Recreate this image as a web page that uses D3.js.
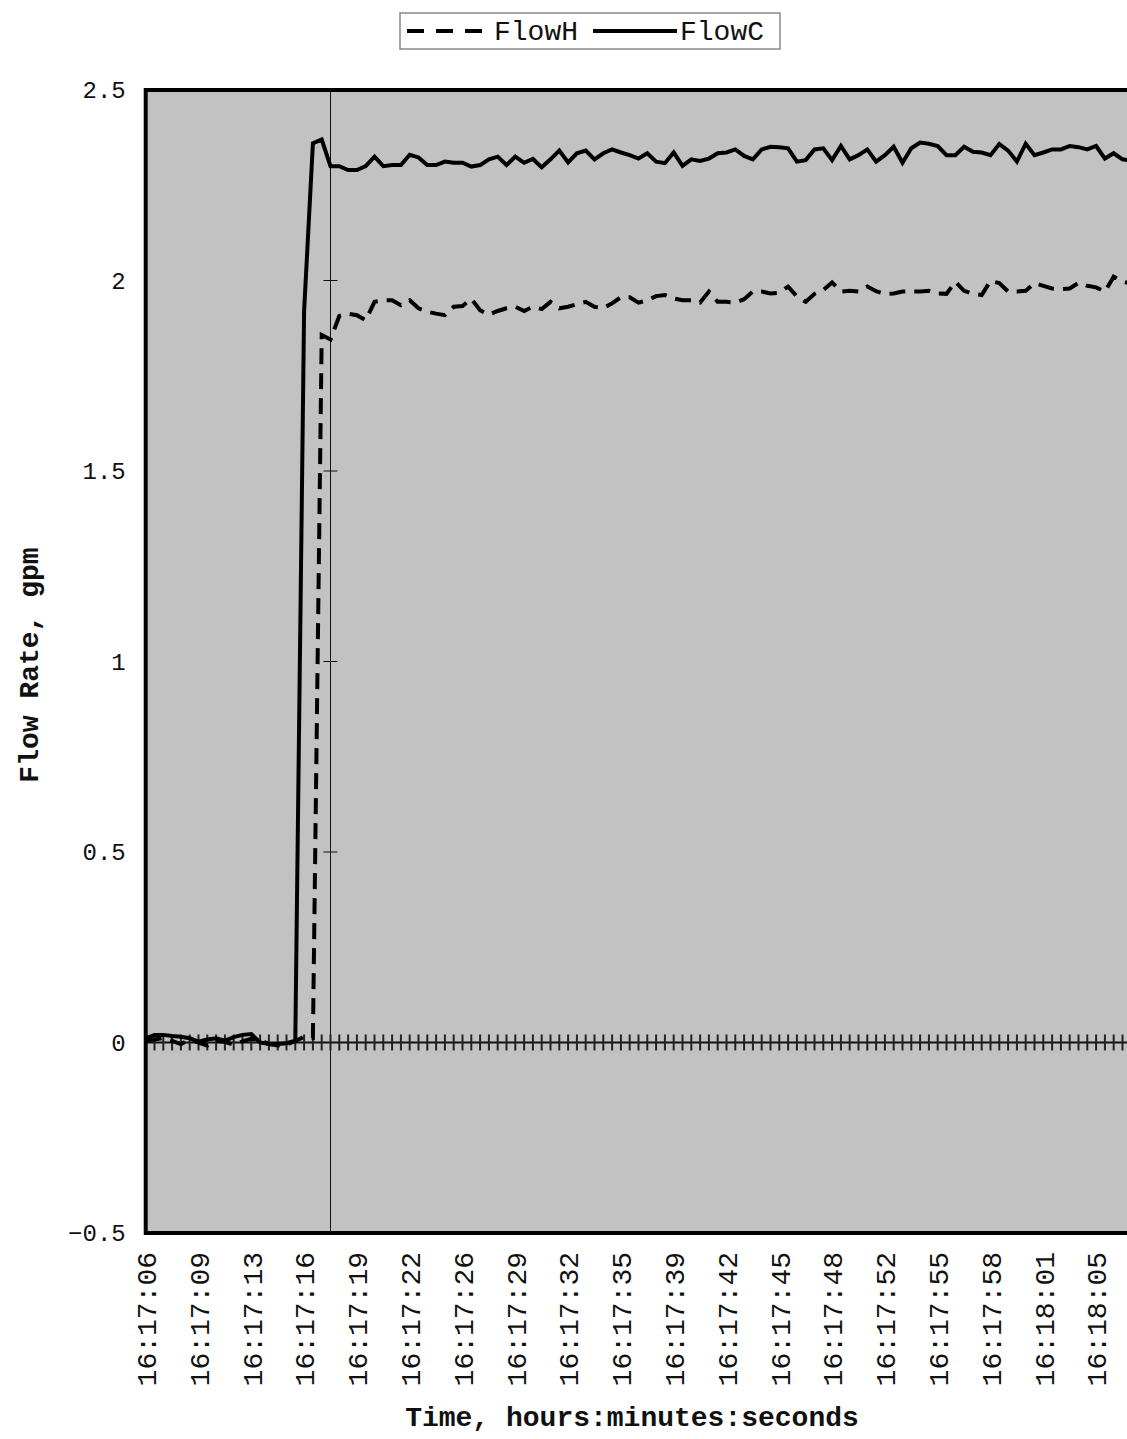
<!DOCTYPE html>
<html lang="en">
<head>
    <meta charset="UTF-8">
    <title>Flow Rate</title>
    <script src="https://d3js.org/d3.v7.min.js"></script>
    <style>
        html, body { margin: 0; padding: 0; background: #fff; overflow: hidden; }
        svg { display: block; font-family: "Liberation Mono", "Courier New", monospace; }
    </style>
</head>
<body>
<svg id="chart" width="1127" height="1439"></svg>
<script>
    // tick labels, one for every 6th sample
    const tickLabels = ["16:17:06", "16:17:09", "16:17:13", "16:17:16", "16:17:19", "16:17:22", "16:17:26",
        "16:17:29", "16:17:32", "16:17:35", "16:17:39", "16:17:42", "16:17:45", "16:17:48", "16:17:52",
        "16:17:55", "16:17:58", "16:18:01", "16:18:05"];
    const labelEvery = 6;
    const yTicks = [-0.5, 0, 0.5, 1, 1.5, 2, 2.5];

    // FlowC (solid), gpm
    const flowC = [0.011, 0.020, 0.020, 0.017, 0.015, 0.011, 0.002, 0.008, 0.011, 0.005, 0.014, 0.020, 0.022,
        0.000, -0.004, -0.004, -0.002, 0.005,
        1.92, 2.36, 2.37, 2.30, 2.30, 2.29, 2.29, 2.30, 2.325, 2.30, 2.303, 2.303, 2.33, 2.323, 2.303, 2.303,
        2.312, 2.309, 2.309, 2.299, 2.303, 2.318, 2.325, 2.303, 2.325, 2.309, 2.319, 2.297, 2.318, 2.341, 2.31,
        2.334, 2.341, 2.318, 2.334, 2.344, 2.336, 2.329, 2.32, 2.334, 2.312, 2.308, 2.336, 2.301, 2.318, 2.314,
        2.32, 2.334, 2.336, 2.344, 2.327, 2.318, 2.344, 2.351, 2.35, 2.347, 2.312, 2.316, 2.344, 2.347, 2.316,
        2.353, 2.318, 2.329, 2.344, 2.312, 2.329, 2.351, 2.309, 2.347, 2.362, 2.359, 2.353, 2.329, 2.329, 2.351,
        2.338, 2.336, 2.329, 2.358, 2.341, 2.312, 2.359, 2.329, 2.336, 2.344, 2.344, 2.353, 2.35, 2.344, 2.353,
        2.32, 2.334, 2.318, 2.315];

    // FlowH (dashed), gpm
    const flowH = [0.005, 0.008, 0.012, 0.004, -0.004, 0.008, 0.000, -0.008, 0.004, 0.002, -0.006, 0.003, 0.010,
        0.006, -0.004, -0.008, -0.006, 0.004, 0.015, 0.012,
        1.857, 1.845, 1.907, 1.913, 1.909, 1.896, 1.944, 1.948, 1.948, 1.935, 1.948, 1.927, 1.918, 1.913, 1.909,
        1.931, 1.933, 1.952, 1.922, 1.91, 1.92, 1.927, 1.931, 1.92, 1.931, 1.925, 1.944, 1.927, 1.931, 1.938,
        1.944, 1.931, 1.927, 1.94, 1.956, 1.956, 1.942, 1.948, 1.959, 1.962, 1.953, 1.948, 1.948, 1.942, 1.971,
        1.944, 1.944, 1.942, 1.951, 1.971, 1.971, 1.966, 1.968, 1.984, 1.958, 1.944, 1.965, 1.975, 1.995, 1.971,
        1.973, 1.971, 1.984, 1.972, 1.965, 1.966, 1.971, 1.971, 1.971, 1.973, 1.966, 1.965, 1.997, 1.973, 1.965,
        1.962, 1.999, 1.993, 1.971, 1.971, 1.973, 1.993, 1.986, 1.979, 1.977, 1.979, 1.994, 1.986, 1.982, 1.971,
        2.01, 1.999, 1.99];

    const valueAxisAt = 21; // category where the value axis crosses

    const svg = d3.select('#chart');
    const plotLeft = 145.7, plotTop = 90, plotBottom = 1233;
    const step = 8.8;
    const n = flowC.length;

    const x = d3.scaleLinear().domain([0, n - 1]).range([plotLeft, plotLeft + step * (n - 1)]);
    const y = d3.scaleLinear().domain([-0.5, 2.5]).range([plotBottom, plotTop]);

    // plot area
    svg.append('rect')
        .attr('x', x(0)).attr('y', y(2.5))
        .attr('width', x(n - 1) - x(0)).attr('height', y(-0.5) - y(2.5))
        .attr('fill', '#c2c2c2');

    // value axis (thin vertical line with cross ticks)
    const vx = x(valueAxisAt);
    svg.append('line')
        .attr('x1', vx).attr('x2', vx).attr('y1', y(2.5)).attr('y2', y(-0.5))
        .attr('stroke', '#111').attr('stroke-width', 1);
    svg.append('g').selectAll('line')
        .data(yTicks.filter(d => d > 0 && d < 2.5))
        .join('line')
        .attr('x1', vx - 7).attr('x2', vx + 7)
        .attr('y1', d => y(d)).attr('y2', d => y(d))
        .attr('stroke', '#111').attr('stroke-width', 1);

    // category axis along zero
    svg.append('line')
        .attr('x1', x(0)).attr('x2', x(n - 1)).attr('y1', y(0)).attr('y2', y(0))
        .attr('stroke', '#111').attr('stroke-width', 2);
    svg.append('g').selectAll('line')
        .data(d3.range(1, n))
        .join('line')
        .attr('x1', d => x(d)).attr('x2', d => x(d))
        .attr('y1', y(0) - 8).attr('y2', y(0) + 8)
        .attr('stroke', '#222').attr('stroke-width', 2);

    // series
    const line = d3.line().x((d, i) => x(i)).y(d => y(d));
    svg.append('path').datum(flowH)
        .attr('d', line).attr('fill', 'none')
        .attr('stroke', '#000').attr('stroke-width', 4)
        .attr('stroke-dasharray', '16,9');
    svg.append('path').datum(flowC)
        .attr('d', line).attr('fill', 'none')
        .attr('stroke', '#000').attr('stroke-width', 4)
        .attr('stroke-linejoin', 'miter');

    // frame
    svg.append('rect')
        .attr('x', x(0)).attr('y', y(2.5))
        .attr('width', x(n - 1) - x(0)).attr('height', y(-0.5) - y(2.5))
        .attr('fill', 'none').attr('stroke', '#000').attr('stroke-width', 4);

    // y axis labels
    const yAxis = svg.append('g')
        .attr('transform', `translate(${plotLeft - 20},0)`)
        .call(d3.axisLeft(y).tickValues(yTicks).tickSize(0).tickFormat(d3.format('')));
    yAxis.select('.domain').remove();
    yAxis.selectAll('text')
        .attr('font-family', '"Liberation Mono", monospace')
        .attr('font-size', 24).attr('fill', '#111').attr('x', 0);

    // x axis labels (rotated)
    const xAxis = svg.append('g')
        .attr('transform', `translate(0,${plotBottom + 19})`)
        .call(d3.axisBottom(x)
            .tickValues(d3.range(0, tickLabels.length * labelEvery, labelEvery))
            .tickSize(0)
            .tickFormat(d => tickLabels[d / labelEvery]));
    xAxis.select('.domain').remove();
    xAxis.selectAll('text')
        .attr('font-family', '"Liberation Mono", monospace')
        .attr('font-size', 28).attr('fill', '#111')
        .attr('transform', 'rotate(-90)')
        .attr('text-anchor', 'end')
        .attr('dy', '0.35em')
        .attr('x', 0).attr('y', 0);

    // axis titles
    svg.append('text')
        .attr('x', 632).attr('y', 1426)
        .attr('text-anchor', 'middle')
        .attr('font-size', 28).attr('font-weight', 'bold').attr('fill', '#111')
        .text('Time, hours:minutes:seconds');
    svg.append('text')
        .attr('transform', 'translate(38,665) rotate(-90)')
        .attr('text-anchor', 'middle')
        .attr('font-size', 28).attr('font-weight', 'bold').attr('fill', '#111')
        .text('Flow Rate, gpm');

    // legend
    const legend = svg.append('g');
    legend.append('rect')
        .attr('x', 400).attr('y', 13).attr('width', 380).attr('height', 36)
        .attr('fill', '#fff').attr('stroke', '#888').attr('stroke-width', 1.5);
    legend.append('line')
        .attr('x1', 407).attr('x2', 484).attr('y1', 31).attr('y2', 31)
        .attr('stroke', '#000').attr('stroke-width', 4).attr('stroke-dasharray', '17,12');
    legend.append('text')
        .attr('x', 494).attr('y', 40).attr('font-size', 28).attr('fill', '#111').text('FlowH');
    legend.append('line')
        .attr('x1', 593).attr('x2', 677).attr('y1', 31).attr('y2', 31)
        .attr('stroke', '#000').attr('stroke-width', 4);
    legend.append('text')
        .attr('x', 680).attr('y', 40).attr('font-size', 28).attr('fill', '#111').text('FlowC');
</script>
</body>
</html>
